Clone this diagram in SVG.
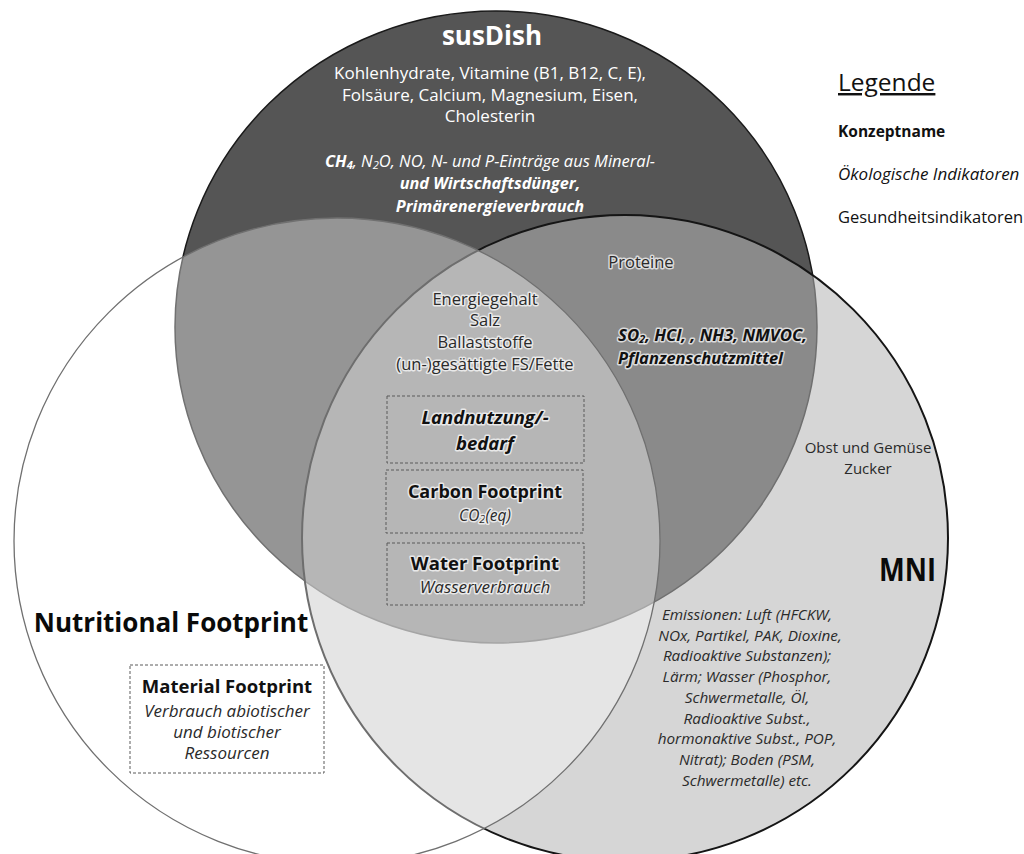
<svg xmlns="http://www.w3.org/2000/svg" width="1024" height="854" viewBox="0 0 1024 854">
<style>
text{font-family:"Open Sans","Liberation Sans",sans-serif;}
.w{fill:#ffffff;font-size:17px;text-anchor:middle;}
.d{fill:#2a2a2a;font-size:16.5px;text-anchor:middle;}
.glow{paint-order:stroke;stroke:#ffffff;stroke-opacity:0.7;stroke-width:3px;stroke-linejoin:round;}
.b{font-weight:bold;}
.i{font-style:italic;}
.box{fill:none;stroke:#5a5a5a;stroke-width:1;stroke-dasharray:3 2;}
.sub{font-size:11px;}
</style>
<rect width="1024" height="854" fill="#ffffff"/>
<g id="circles">
  <g id="susDish-circle"><ellipse cx="496" cy="327" rx="321" ry="316" fill="#555555" stroke="#1a1a1a" stroke-width="1.5"/></g>
  <g id="mni-circle"><circle cx="625" cy="538" r="323" fill="#b5b5b5" fill-opacity="0.553" stroke="#151515" stroke-width="2"/></g>
  <g id="nutritional-circle"><circle cx="337" cy="541" r="323" fill="#ffffff" fill-opacity="0.382" stroke="#707070" stroke-width="1.3"/></g>
</g>
<g id="connectors"></g>
<g id="susDish">
  <text class="w b" x="492" y="45" style="font-size:26px">susDish</text>
  <text class="w" x="490" y="79">Kohlenhydrate, Vitamine (B1, B12, C, E),</text>
  <text class="w" x="490" y="101">Folsäure, Calcium, Magnesium, Eisen,</text>
  <text class="w" x="490" y="122">Cholesterin</text>
  <text class="w i" x="490" y="167" style="font-size:16.5px"><tspan class="b">CH</tspan><tspan class="sub b" dy="2">4</tspan><tspan dy="-2">, N</tspan><tspan class="sub" dy="2">2</tspan><tspan dy="-2">O, NO, N- und P-Einträge aus Mineral-</tspan></text>
  <text class="w i b" x="490" y="189" style="font-size:16.3px">und Wirtschaftsdünger,</text>
  <text class="w i b" x="490" y="212" style="font-size:16.3px">Primärenergieverbrauch</text>
</g>
<g id="susDish-mni">
  <text class="d glow" x="641" y="268">Proteine</text>
  <text class="d glow b i" x="618" y="341" style="text-anchor:start;fill:#111;font-size:16.8px">SO<tspan class="sub" dy="2">2</tspan><tspan dy="-2">, HCl, , NH3, NMVOC,</tspan></text>
  <text class="d glow b i" x="618" y="364" style="text-anchor:start;fill:#111">Pflanzenschutzmittel</text>
</g>
<g id="center">
  <text class="d glow" x="485" y="305">Energiegehalt</text>
  <text class="d glow" x="485" y="326">Salz</text>
  <text class="d glow" x="485" y="348">Ballaststoffe</text>
  <text class="d glow" x="485" y="370">(un-)gesättigte FS/Fette</text>
</g>
<g id="box-land">
  <rect class="box" x="387" y="396" width="197" height="67"/>
  <text class="d glow b i" x="485" y="424" style="font-size:18.5px;fill:#111">Landnutzung/-</text>
  <text class="d glow b i" x="485" y="450" style="font-size:18.5px;fill:#111">bedarf</text>
</g>
<g id="box-carbon">
  <rect class="box" x="386" y="470" width="197" height="63"/>
  <text class="d glow b" x="485" y="498" style="font-size:18px;fill:#111">Carbon Footprint</text>
  <text class="d glow i" x="485" y="521" style="font-size:15.5px">CO<tspan class="sub" dy="2">2</tspan><tspan dy="-2">(eq)</tspan></text>
</g>
<g id="box-water">
  <rect class="box" x="387" y="543" width="197" height="62"/>
  <text class="d glow b" x="485" y="570" style="font-size:18.5px;fill:#111">Water Footprint</text>
  <text class="d glow i" x="485" y="593" style="font-size:17px">Wasserverbrauch</text>
</g>
<g id="mni">
  <text class="d" x="868" y="453" style="font-size:15px">Obst und Gemüse</text>
  <text class="d" x="868" y="474" style="font-size:15px">Zucker</text>
  <text class="b" x="936" y="581" style="font-size:33px;text-anchor:end;fill:#0a0a0a" textLength="57" lengthAdjust="spacingAndGlyphs">MNI</text>
  <g class="d i" style="font-size:15.3px">
    <text x="747" y="620">Emissionen: Luft (HFCKW,</text>
    <text x="750" y="641">NOx, Partikel, PAK, Dioxine,</text>
    <text x="747" y="661">Radioaktive Substanzen);</text>
    <text x="747" y="682">Lärm; Wasser (Phosphor,</text>
    <text x="747" y="703">Schwermetalle, Öl,</text>
    <text x="747" y="724">Radioaktive Subst.,</text>
    <text x="747" y="744">hormonaktive Subst., POP,</text>
    <text x="747" y="765">Nitrat); Boden (PSM,</text>
    <text x="747" y="786">Schwermetalle) etc.</text>
  </g>
</g>
<g id="nutritional">
  <text class="b" x="171" y="632" style="font-size:26px;text-anchor:middle;fill:#0a0a0a">Nutritional Footprint</text>
</g>
<g id="box-material">
  <rect class="box" x="130" y="665" width="194" height="108"/>
  <text class="d b" x="227" y="693" style="font-size:18.5px;fill:#111">Material Footprint</text>
  <text class="d i" x="227" y="717" style="font-size:17px">Verbrauch abiotischer</text>
  <text class="d i" x="227" y="738" style="font-size:17px">und biotischer</text>
  <text class="d i" x="227" y="759" style="font-size:17px">Ressourcen</text>
</g>
<g id="legend">
  <text x="838" y="91" style="font-size:24.5px;fill:#111;text-decoration:underline">Legende</text>
  <text class="b" x="838" y="137" style="font-size:15.5px;fill:#111">Konzeptname</text>
  <text class="i" x="838" y="180" style="font-size:17px;fill:#111">Ökologische Indikatoren</text>
  <text x="838" y="223" style="font-size:16.5px;fill:#111">Gesundheitsindikatoren</text>
</g>
</svg>
